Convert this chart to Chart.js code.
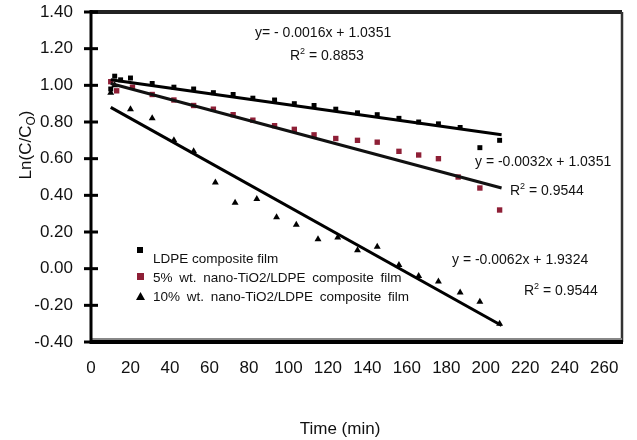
<!DOCTYPE html>
<html>
<head>
<meta charset="utf-8">
<script src="https://cdn.jsdelivr.net/npm/chart.js@4.4.1/dist/chart.umd.min.js"></script>
<style>
  body { margin: 0; background: #fff; }
</style>
</head>
<body>
<canvas id="kineticsChart" width="637" height="440"></canvas>
<script>
// LDPE composite film
var ldpeTime = [10, 12, 15, 20, 31, 42, 52, 62, 72, 82, 93, 103, 113, 124, 135, 145, 156, 166, 176, 187, 197, 207];
var ldpeLn   = [0.98, 1.05, 1.03, 1.04, 1.01, 0.99, 0.98, 0.96, 0.95, 0.93, 0.92, 0.90, 0.89, 0.87, 0.85, 0.84, 0.82, 0.80, 0.79, 0.77, 0.66, 0.70];

// 5% wt. nano-TiO2/LDPE
var tio5Time = [10, 13, 21, 31, 42, 52, 62, 72, 82, 93, 103, 113, 124, 135, 145, 156, 166, 176, 186, 197, 207];
var tio5Ln   = [1.02, 0.97, 0.99, 0.95, 0.92, 0.89, 0.87, 0.84, 0.81, 0.78, 0.76, 0.73, 0.71, 0.70, 0.69, 0.64, 0.62, 0.60, 0.50, 0.44, 0.32];

// 10% wt. nano-TiO2/LDPE
var tio10Time = [10, 12, 20, 31, 42, 52, 63, 73, 84, 94, 104, 115, 125, 135, 145, 156, 166, 176, 187, 197, 207];
var tio10Ln   = [0.96, 1.00, 0.87, 0.82, 0.70, 0.64, 0.47, 0.36, 0.38, 0.28, 0.24, 0.16, 0.17, 0.10, 0.12, 0.02, -0.04, -0.07, -0.13, -0.18, -0.30];

// trend line ends as drawn in the figure
var fitTime    = [10, 208];
var ldpeFitLn  = [1.03, 0.73];
var tio5FitLn  = [1.01, 0.44];
var tio10FitLn = [0.88, -0.31];

var legendLabels = ['LDPE composite film', '5% wt. nano-TiO2/LDPE composite film', '10% wt. nano-TiO2/LDPE composite film'];
var eqLabels = ['y= - 0.0016x + 1.0351', 'y = -0.0032x + 1.0351', 'y = -0.0062x + 1.9324'];
var r2Labels = ['0.8853', '0.9544', '0.9544'];

var FONT = "'Liberation Sans', Arial, sans-serif";
var RED = '#8e1f36';

function pts(xs, ys) {
    return xs.map(function (x, i) { return { x: x, y: ys[i] }; });
}

function drawR2(ctx, x, y, val) {
    ctx.font = '14px ' + FONT;
    ctx.fillText('R', x, y);
    var w = ctx.measureText('R').width;
    ctx.font = '9px ' + FONT;
    ctx.fillText('2', x + w, y - 6);
    var w2 = ctx.measureText('2').width;
    ctx.font = '14px ' + FONT;
    ctx.fillText(' = ' + val, x + w + w2, y);
}

var decorations = {
    id: 'decorations',
    afterDraw: function (chart) {
        var ctx = chart.ctx;
        var a = chart.chartArea;
        var yScale = chart.scales.y;
        ctx.save();

        // frame
        ctx.strokeStyle = '#222';
        ctx.lineWidth = 4;
        ctx.beginPath(); ctx.moveTo(a.left, a.top); ctx.lineTo(a.right, a.top); ctx.stroke();
        ctx.strokeStyle = '#333';
        ctx.lineWidth = 2.5;
        ctx.beginPath(); ctx.moveTo(a.right, a.top); ctx.lineTo(a.right, a.bottom); ctx.stroke();
        ctx.strokeStyle = '#888';
        ctx.lineWidth = 2;
        ctx.beginPath(); ctx.moveTo(a.left, a.bottom - 3); ctx.lineTo(a.right, a.bottom - 3); ctx.stroke();
        ctx.strokeStyle = '#000';
        ctx.lineWidth = 4;
        ctx.beginPath(); ctx.moveTo(a.left - 1, a.bottom); ctx.lineTo(a.right + 1, a.bottom); ctx.stroke();
        ctx.lineWidth = 3;
        ctx.beginPath(); ctx.moveTo(a.left, a.top - 2); ctx.lineTo(a.left, a.bottom + 2); ctx.stroke();

        // cross ticks on y axis
        ctx.lineWidth = 3;
        yScale.ticks.forEach(function (t) {
            var py = yScale.getPixelForValue(t.value);
            ctx.beginPath(); ctx.moveTo(a.left - 7, py); ctx.lineTo(a.left + 7, py); ctx.stroke();
        });

        // legend inside plot
        ctx.fillStyle = '#000';
        ctx.fillRect(137, 247, 6, 6);
        ctx.fillStyle = RED;
        ctx.fillRect(137, 273, 7, 7);
        ctx.fillStyle = '#000';
        ctx.beginPath(); ctx.moveTo(140.5, 292); ctx.lineTo(145, 300); ctx.lineTo(136, 300); ctx.closePath(); ctx.fill();

        ctx.fillStyle = '#111';
        ctx.font = '13.5px ' + FONT;
        ctx.textAlign = 'left';
        ctx.textBaseline = 'alphabetic';
        ctx.fillText(legendLabels[0], 153, 263);
        ctx.wordSpacing = '3px';
        ctx.fillText(legendLabels[1], 153, 282);
        ctx.fillText(legendLabels[2], 153, 301);
        ctx.wordSpacing = '0px';

        // equations
        ctx.font = '14px ' + FONT;
        ctx.fillText(eqLabels[0], 255, 37);
        drawR2(ctx, 290, 60, r2Labels[0]);
        ctx.fillText(eqLabels[1], 475, 166);
        drawR2(ctx, 510, 195, r2Labels[1]);
        ctx.fillText(eqLabels[2], 452, 264);
        drawR2(ctx, 524, 295, r2Labels[2]);

        // x axis title
        ctx.font = '17px ' + FONT;
        ctx.textAlign = 'center';
        ctx.fillText('Time (min)', 340, 434);

        // y axis title with subscript
        ctx.translate(31, 145);
        ctx.rotate(-Math.PI / 2);
        ctx.textAlign = 'left';
        var main = 'Ln(C/C';
        ctx.font = '17px ' + FONT;
        var w1 = ctx.measureText(main).width;
        ctx.font = '12px ' + FONT;
        var ws = ctx.measureText('O').width;
        ctx.font = '17px ' + FONT;
        var wc = ctx.measureText(')').width;
        var x0 = -(w1 + ws + wc) / 2;
        ctx.fillText(main, x0, 0);
        ctx.font = '12px ' + FONT;
        ctx.fillText('O', x0 + w1, 4);
        ctx.font = '17px ' + FONT;
        ctx.fillText(')', x0 + w1 + ws, 0);

        ctx.restore();
    }
};

var ctx = document.getElementById('kineticsChart').getContext('2d');
var kineticsChart = new Chart(ctx, {
    type: 'scatter',
    data: {
        datasets: [
            { label: 'LDPE fit', data: pts(fitTime, ldpeFitLn), showLine: true, borderColor: '#000', borderWidth: 3, pointRadius: 0, order: 1 },
            { label: '5% fit', data: pts(fitTime, tio5FitLn), showLine: true, borderColor: '#111', borderWidth: 3, pointRadius: 0, order: 1 },
            { label: '10% fit', data: pts(fitTime, tio10FitLn), showLine: true, borderColor: '#000', borderWidth: 3, pointRadius: 0, order: 1 },
            { label: legendLabels[0], data: pts(ldpeTime, ldpeLn), pointStyle: 'rect', pointRadius: 3.5, backgroundColor: '#000', borderWidth: 0, order: 2 },
            { label: legendLabels[1], data: pts(tio5Time, tio5Ln), pointStyle: 'rect', pointRadius: 3.8, backgroundColor: RED, borderWidth: 0, order: 3 },
            { label: legendLabels[2], data: pts(tio10Time, tio10Ln), pointStyle: 'triangle', pointRadius: 4, backgroundColor: '#000', borderWidth: 0, order: 2 }
        ]
    },
    options: {
        responsive: false,
        animation: false,
        layout: { padding: { top: 12, right: 15, left: 0, bottom: 0 } },
        plugins: { legend: { display: false }, tooltip: { enabled: false } },
        scales: {
            x: {
                type: 'linear', min: 0, max: 269,
                grid: { display: false, drawTicks: false },
                border: { display: false },
                ticks: { stepSize: 20, includeBounds: false, padding: 16, color: '#111', font: { family: FONT, size: 17 }, maxRotation: 0, autoSkip: false },
                afterFit: function (s) { s.height = 98; s.paddingLeft = 0; s.paddingRight = 0; }
            },
            y: {
                min: -0.4, max: 1.4,
                grid: { display: false, drawTicks: false },
                border: { display: false },
                ticks: { stepSize: 0.2, padding: 18, color: '#111', font: { family: FONT, size: 17 },
                    callback: function (v) { return (Math.abs(v) < 1e-9 ? 0 : v).toFixed(2); } },
                afterFit: function (s) { s.width = 91; s.paddingTop = 0; s.paddingBottom = 0; }
            }
        }
    },
    plugins: [decorations]
});
</script>
</body>
</html>
